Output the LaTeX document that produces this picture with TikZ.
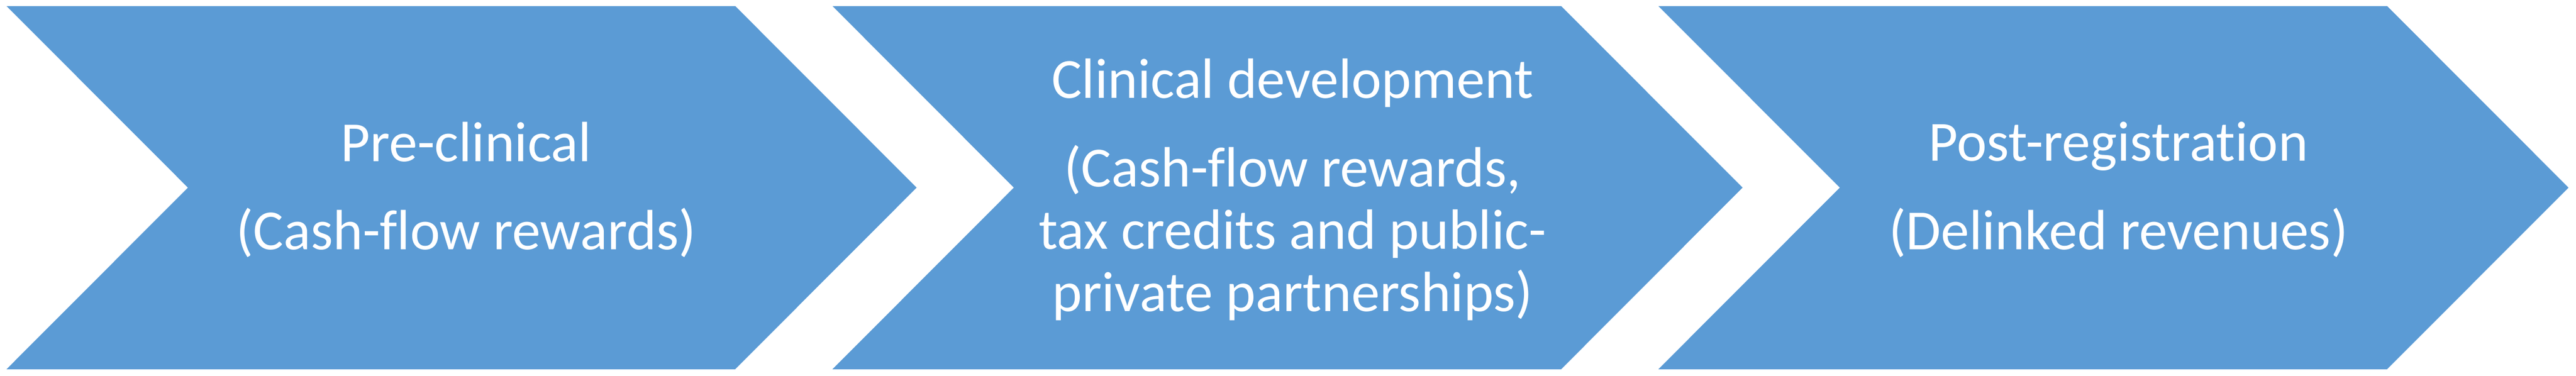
\documentclass[tikz,border=0pt]{standalone}
\usepackage{fontspec}
\setmainfont{Carlito}[Ligatures={TeX,NoCommon}]
\definecolor{chevblue}{HTML}{5B9BD5}
\tikzset{
  chev/.style={fill=chevblue},
  stagetext/.style={text=white, align=center, inner sep=0pt, font=\fontsize{34.4}{37.9}\selectfont}
}
\begin{document}
\begin{tikzpicture}
		\useasboundingbox (0,0) rectangle (54.83,8);
		\fill[chev] (0.14,7.87) -- (15.65,7.87) -- (19.51,4.005) -- (15.65,0.14) -- (0.14,0.14) -- (4.00,4.005) -- cycle;
		\node[stagetext] (pre) at (9.92,3.96) {Pre-clinical\\[15.6pt](Cash-flow rewards)};
		\fill[chev] (17.72,7.87) -- (33.23,7.87) -- (37.09,4.005) -- (33.23,0.14) -- (17.72,0.14) -- (21.58,4.005) -- cycle;
		\node[stagetext] (clin) at (27.51,3.96) {Clinical development\\[15.6pt](Cash-flow rewards,\\tax credits and public-\\private partnerships)};
		\fill[chev] (35.30,7.87) -- (50.81,7.87) -- (54.67,4.005) -- (50.81,0.14) -- (35.30,0.14) -- (39.16,4.005) -- cycle;
		\node[stagetext] (post) at (45.09,3.96) {Post-registration\\[15.6pt](Delinked revenues)};
\end{tikzpicture}
\end{document}
